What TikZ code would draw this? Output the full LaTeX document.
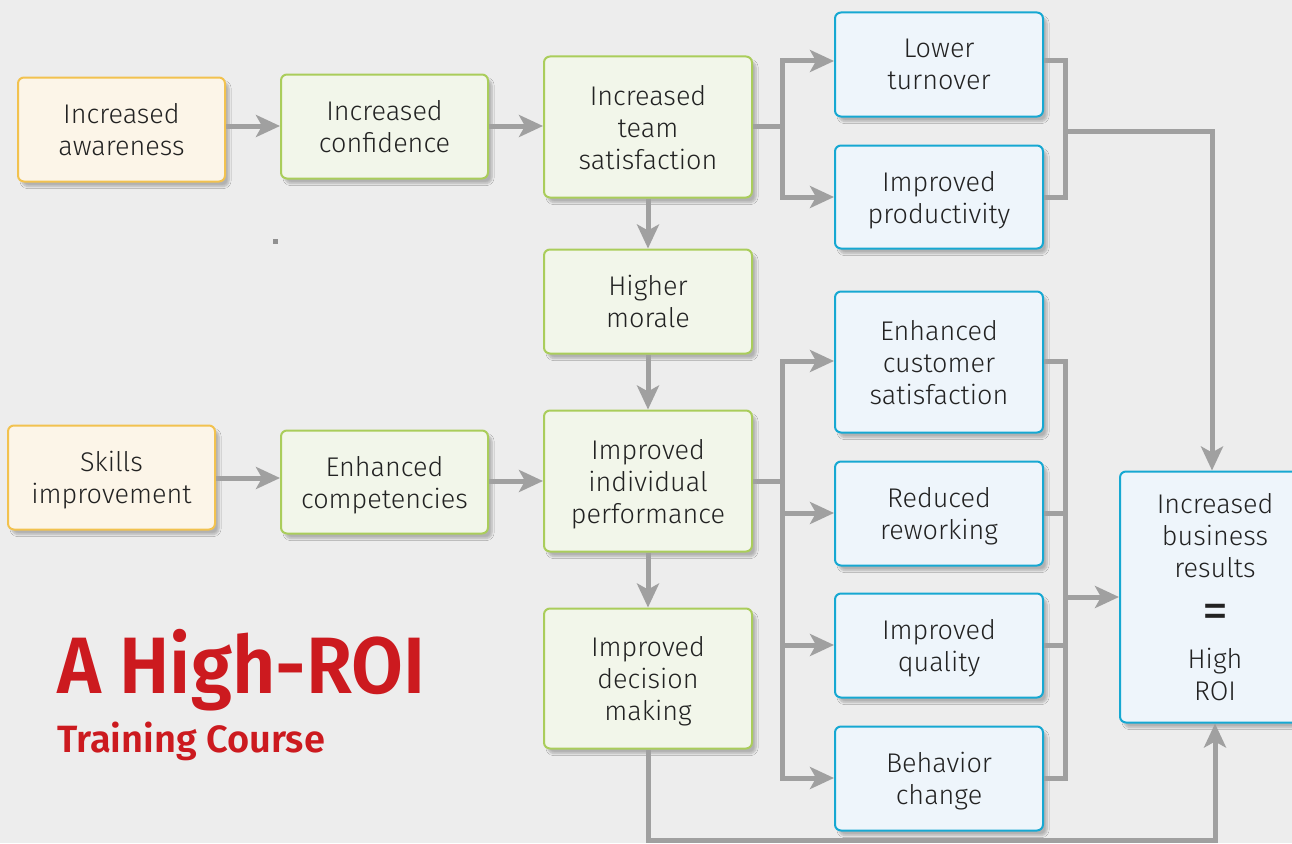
\documentclass[tikz,border=0pt]{standalone}
\usepackage{fontspec}
\setmainfont{Fira Sans}[UprightFont=* Light, BoldFont=* Regular]
\newfontfamily\titlefont{Fira Sans}[UprightFont=* SemiBold]
\usetikzlibrary{arrows.meta,shadows.blur,positioning}
\definecolor{bg}{HTML}{EDEDED}
\definecolor{ycream}{HTML}{FCF5E8}
\definecolor{yedge}{HTML}{F2C24F}
\definecolor{gfill}{HTML}{F2F6EA}
\definecolor{gedge}{HTML}{AACD5B}
\definecolor{bfill}{HTML}{EEF5FB}
\definecolor{bedge}{HTML}{16A8D2}
\definecolor{conn}{HTML}{A0A0A0}
\definecolor{titred}{HTML}{CC1A1F}
\definecolor{txt}{HTML}{222222}
\tikzset{
  box/.style={rounded corners=6pt, line width=2pt, align=center, text=txt,
    font=\fontsize{27}{32}\selectfont, inner sep=0pt, text depth=0pt,
    blur shadow={shadow xshift=4pt, shadow yshift=-5pt, shadow opacity=25, shadow blur steps=6}},
  ybox/.style={box, draw=yedge, fill=ycream},
  gbox/.style={box, draw=gedge, fill=gfill},
  bbox/.style={box, draw=bedge, fill=bfill},
  line/.style={draw=conn, line width=5pt, line join=miter},
  arr/.style={line, -{Stealth[length=24pt,width=22pt,inset=6pt]}},
  titletext/.style={anchor=base west, inner sep=0pt, text=titred, transform shape},
}
\begin{document}
\begin{tikzpicture}[x=1pt,y=-1pt]
\useasboundingbox (0,0) rectangle (1292,843);
\fill[bg] (0,0) rectangle (1292,843);
\clip (0,0) rectangle (1292,843);
% nodes
\node[ybox, minimum width=207pt, minimum height=104pt] (aw) at (121.5,129.5) {Increased\\awareness};
\node[gbox, minimum width=207pt, minimum height=104pt] (conf) at (384.5,126.5) {Increased\\confidence};
\node[gbox, minimum width=208pt, minimum height=141pt] (team) at (648,127) {Increased\\team\\satisfaction};
\node[bbox, minimum width=208pt, minimum height=104pt] (low) at (939,64.5) {Lower\\turnover};
\node[bbox, minimum width=208pt, minimum height=103pt] (prod) at (939,197) {Improved\\productivity};
\node[gbox, minimum width=208pt, minimum height=104pt] (mor) at (648,301.5) {Higher\\morale};
\node[bbox, minimum width=208pt, minimum height=141pt] (cust) at (939,362) {Enhanced\\customer\\satisfaction};
\node[ybox, minimum width=207pt, minimum height=104pt] (skill) at (111.5,477.5) {Skills\\improvement};
\node[gbox, minimum width=207pt, minimum height=103pt] (comp) at (384.5,482) {Enhanced\\competencies};
\node[gbox, minimum width=208pt, minimum height=141pt] (indiv) at (648,481) {Improved\\individual\\performance};
\node[bbox, minimum width=208pt, minimum height=104pt] (rew) at (939,513.5) {Reduced\\reworking};
\node[bbox, minimum width=208pt, minimum height=104pt] (qual) at (939,645.5) {Improved\\quality};
\node[gbox, minimum width=208pt, minimum height=140pt] (dec) at (648,678.5) {Improved\\decision\\making};
\node[bbox, minimum width=208pt, minimum height=104pt] (beh) at (939,778.5) {Behavior\\change};
\node[bbox, minimum width=190pt, minimum height=251pt] (res) at (1215,597)
  {Increased\\business\\results\\[19pt]{\fontsize{52}{30}\selectfont\bfseries =}\\[8pt]High\\ROI};
% title
\node[titletext, xscale=0.94, font=\titlefont\fontsize{80}{80}\selectfont] (title) at (57,693) {A High-ROI};
\node[titletext, font=\titlefont\fontsize{38}{38}\selectfont] (sub) at (57,752) {Training Course};
% stray dot
\fill[conn!90!black] (273,239) rectangle (278,244);
% junction coordinates
\coordinate (j1) at (782,126);
\coordinate (k1) at (1065,131);
\coordinate (j2) at (782,481);
\coordinate (k2) at (1065,597);
\coordinate (bot) at (0,840);
% connectors
\draw[arr] (aw.east |- j1) -- (conf.west |- j1);
\draw[arr] (conf.east |- j1) -- (team.west |- j1);
\draw[line] (team.east |- j1) -- (j1);
\draw[arr] (j1) |- (low.west |- 0,61);
\draw[arr] (j1) |- (prod.west |- 0,197);
\draw[line] (low.east |- 0,61) -| (k1) |- (prod.east |- 0,197);
\draw[arr] (k1) -| (res.north -| 1212,0);
\draw[arr] (team.south) -- (mor.north);
\draw[arr] (mor.south) -- (indiv.north);
\draw[arr] (indiv.south) -- (dec.north);
\draw[arr] (skill.east |- 0,478) -- (comp.west |- 0,478);
\draw[arr] (comp.east |- j2) -- (indiv.west |- j2);
\draw[line] (indiv.east |- j2) -- (j2);
\draw[arr] (j2) |- (cust.west |- 0,361);
\draw[arr] (j2) |- (rew.west |- 0,513);
\draw[arr] (j2) |- (qual.west |- 0,645);
\draw[arr] (j2) |- (beh.west |- 0,778);
\draw[line] (cust.east |- 0,361) -| (k2) |- (beh.east |- 0,778);
\draw[line] (rew.east |- 0,513) -- (k2 |- 0,513);
\draw[line] (qual.east |- 0,645) -- (k2 |- 0,645);
\draw[arr] (k2) -- (res.west |- k2);
\draw[arr] (dec.south) -- (dec.south |- bot) -| (res.south);
\end{tikzpicture}
\end{document}
